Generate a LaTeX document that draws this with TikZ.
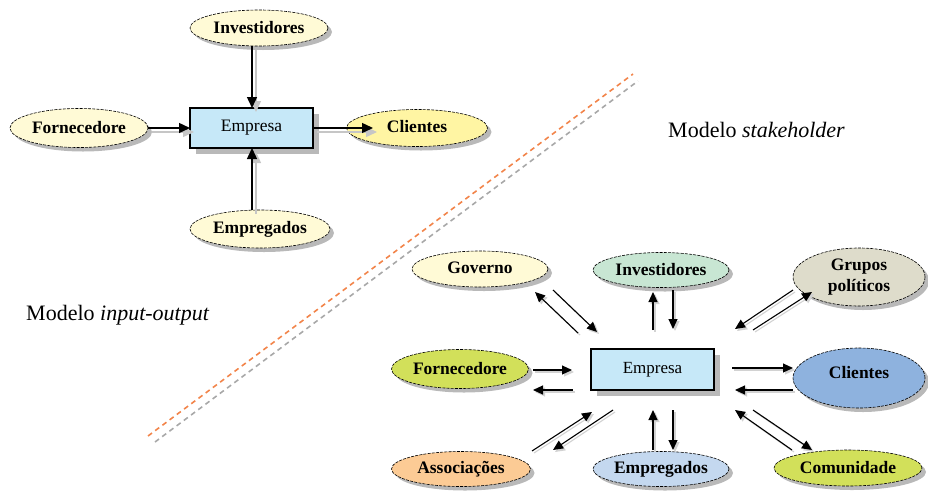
\documentclass[tikz,border=0pt]{standalone}
\usepackage{fontspec}
\setmainfont{Liberation Serif}
\usetikzlibrary{shapes.geometric,shadows,arrows.meta}
\definecolor{cream}{HTML}{FFFAD6}
\definecolor{yel}{HTML}{FFF5A3}
\definecolor{pgreen}{HTML}{C8E6D3}
\definecolor{pgray}{HTML}{DEDCCB}
\definecolor{lime}{HTML}{D2E05A}
\definecolor{blue2}{HTML}{8EB2DE}
\definecolor{peach}{HTML}{FCCB95}
\definecolor{lblue}{HTML}{C4D8EF}
\definecolor{boxblue}{HTML}{C6E8F8}
\definecolor{dorange}{HTML}{F2844A}
\definecolor{dgray}{HTML}{A8A8A8}
\tikzset{
  oval/.style={ellipse, draw=black, line width=0.6pt, dash pattern=on 3pt off 1.2pt,
    inner sep=0pt, font=\fontsize{17.5}{19}\selectfont\bfseries,
    drop shadow={shadow xshift=4pt, shadow yshift=-4pt, fill=gray!55, opacity=1}},
  firm/.style={rectangle, draw=black, line width=1.2pt, fill=boxblue, inner sep=0pt,
    font=\fontsize{17.5}{19}\selectfont,
    drop shadow={shadow xshift=6pt, shadow yshift=-6pt, fill=gray!55, opacity=1}},
  arrmain/.style={draw=black, line width=1.4pt, -{Triangle[length=11pt,width=10pt]}},
  arrshadow/.style={draw=gray!45, line width=1.4pt, -{Triangle[length=11pt,width=10pt]}},
  title/.style={font=\fontsize{22}{24}\selectfont, anchor=west, inner sep=0pt}
}
\newcommand\myarr[3][4]{%
  \draw[arrshadow] ([shift={(#1,#1)}]#2) -- ([shift={(#1,#1)}]#3);
  \draw[arrmain] (#2) -- (#3);}
\begin{document}
\begin{tikzpicture}[x=1pt,y=-1pt]
\useasboundingbox (0,0) rectangle (928,493);
% dashed separators
\coordinate (o1) at (148,436); \coordinate (o2) at (633,74);
\coordinate (g1) at (155,442); \coordinate (g2) at (638,81);
\draw[dorange, line width=1.6pt, dash pattern=on 5pt off 4pt] (o1) -- (o2);
\draw[dgray, line width=1.6pt, dash pattern=on 5pt off 4pt] (g1) -- (g2);

% ---------- input-output model ----------
\node[firm, minimum width=123pt, minimum height=40pt] (E1) at (251.5,128) {\raisebox{-4pt}{Empresa}};
\node[oval, fill=cream, minimum width=138pt, minimum height=36pt] (I1) at (259,28) {\raisebox{2pt}{Investidores}};
\node[oval, fill=cream, minimum width=138pt, minimum height=39pt] (F1) at (79,128) {\raisebox{2pt}{Fornecedore}};
\node[oval, fill=yel, minimum width=141pt, minimum height=37pt] (C1) at (417,128) {\raisebox{3pt}{Clientes}};
\node[oval, fill=cream, minimum width=140pt, minimum height=38pt] (P1) at (260,229) {\raisebox{2pt}{Empregados}};

\coordinate (i1s) at (252,46);  \coordinate (i1e) at (252,108);
\coordinate (f1s) at (148,128); \coordinate (f1e) at (190,128);
\coordinate (c1s) at (313,128); \coordinate (c1e) at (373,128);
\coordinate (p1s) at (252,210); \coordinate (p1e) at (252,148);
\myarr[4]{i1s}{i1e}
\myarr[4]{f1s}{f1e}
\myarr[4]{c1s}{c1e}
\myarr[4]{p1s}{p1e}

\node[title] (T1) at (26,315) {Modelo \textit{input-output}};
\node[title] (T2) at (668,130) {Modelo \textit{stakeholder}};

% ---------- stakeholder model ----------
\node[firm, line width=1.1pt, minimum width=123pt, minimum height=41pt, font=\fontsize{17}{19}\selectfont] (E2) at (652.5,369.5) {\raisebox{-3pt}{Empresa}};
\node[oval, fill=cream, minimum width=136pt, minimum height=36pt] (G) at (480,269) {\raisebox{2pt}{Governo}};
\node[oval, fill=pgreen, minimum width=136pt, minimum height=35pt] (I2) at (661,270) {\raisebox{2pt}{Investidores}};
\node[oval, fill=pgray, minimum width=132pt, minimum height=58pt, align=center,
  font=\fontsize{17.5}{21}\selectfont\bfseries] (GP) at (859,277) {Grupos\\políticos};
\node[oval, fill=lime, minimum width=137pt, minimum height=39pt] (F2) at (460,369) {\raisebox{2pt}{Fornecedore}};
\node[oval, fill=blue2, minimum width=132pt, minimum height=60pt] (C2) at (859,378) {\raisebox{11pt}{Clientes}};
\node[oval, fill=peach, minimum width=139pt, minimum height=35pt] (A) at (461,469) {Associações};
\node[oval, fill=lblue, minimum width=136pt, minimum height=35pt] (P2) at (661,469) {Empregados};
\node[oval, fill=lime, minimum width=148pt, minimum height=36pt] (CM) at (848,468) {Comunidade};

% arrow end points
\coordinate (ga1) at (578,333); \coordinate (ga2) at (535,292);
\coordinate (gb1) at (553,290); \coordinate (gb2) at (597,332);
\coordinate (ia1) at (653,330); \coordinate (ia2) at (653,292);
\coordinate (ib1) at (673,290); \coordinate (ib2) at (673,329);
\coordinate (pa1) at (793,290); \coordinate (pa2) at (735,329);
\coordinate (pb1) at (753,330); \coordinate (pb2) at (812,292);
\coordinate (fa1) at (533,370); \coordinate (fa2) at (572,370);
\coordinate (fb1) at (573,390); \coordinate (fb2) at (533,390);
\coordinate (ca1) at (732,368); \coordinate (ca2) at (793,368);
\coordinate (cb1) at (793,390); \coordinate (cb2) at (735,390);
\coordinate (aa1) at (532,451); \coordinate (aa2) at (592,412);
\coordinate (ab1) at (613,410); \coordinate (ab2) at (553,450);
\coordinate (ea1) at (653,450); \coordinate (ea2) at (653,410);
\coordinate (eb1) at (673,410); \coordinate (eb2) at (673,450);
\coordinate (ma1) at (792,450); \coordinate (ma2) at (735,410);
\coordinate (mb1) at (753,410); \coordinate (mb2) at (812,450);
\foreach \s/\e in {ga1/ga2,gb1/gb2,ia1/ia2,ib1/ib2,pa1/pa2,pb1/pb2,fa1/fa2,fb1/fb2,
  ca1/ca2,cb1/cb2,aa1/aa2,ab1/ab2,ea1/ea2,eb1/eb2,ma1/ma2,mb1/mb2}{
  \draw[arrshadow, draw=gray!35, line width=1.1pt, -{Triangle[length=10pt,width=9pt]}] ([shift={(2,2)}]\s) -- ([shift={(2,2)}]\e);
  \draw[arrmain, line width=1.1pt, -{Triangle[length=10pt,width=9pt]}] (\s) -- (\e);
}
\end{tikzpicture}
\end{document}
